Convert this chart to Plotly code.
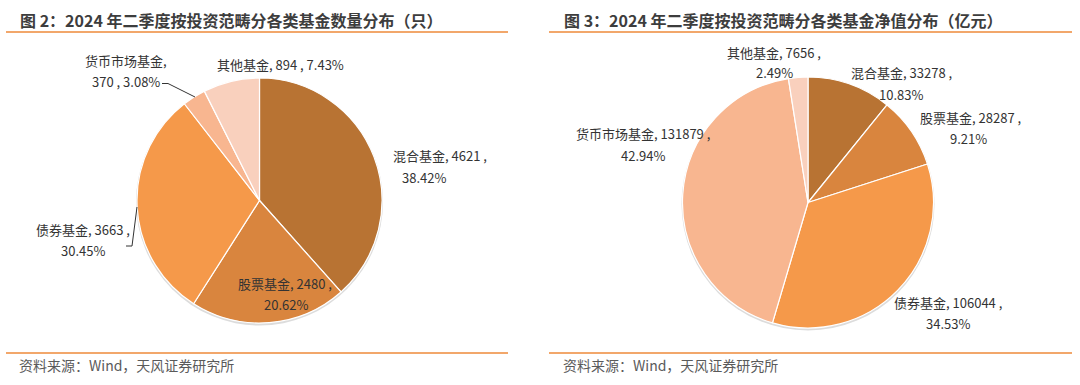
import plotly.graph_objects as go

W, H = 1080, 385

categories_left = ["混合基金", "股票基金", "债券基金", "货币市场基金", "其他基金"]
counts_left = [4621, 2480, 3663, 370, 894]

categories_right = ["混合基金", "股票基金", "债券基金", "货币市场基金", "其他基金"]
nav_right = [33278, 28287, 106044, 131879, 7656]

colors = ["#B87333", "#D9853E", "#F5994A", "#F8B690", "#F9D0BD"]

title_left = "图 2：2024 年二季度按投资范畴分各类基金数量分布（只）"
title_right = "图 3：2024 年二季度按投资范畴分各类基金净值分布（亿元）"
source_text = "资料来源：Wind，天风证券研究所"

FONT = "Noto Sans CJK SC"


def px(x):
    return x / W


def py(y):
    return 1 - y / H


def pct_list(vals):
    t = sum(vals)
    return [f"{v / t * 100:.2f}%" for v in vals]


fig = go.Figure()


def add_pie(cx, cy, r, labels, values):
    # soft shadow
    fig.add_trace(go.Pie(
        labels=["s"], values=[1], sort=False, textinfo="none", hoverinfo="skip",
        marker=dict(colors=["#dcdcdc"], line=dict(width=0)),
        domain=dict(x=[px(cx - r - 1.5), px(cx + r + 1.5)],
                    y=[py(cy + r + 2.5), py(cy - r + 0.5)]),
        showlegend=False,
    ))
    fig.add_trace(go.Pie(
        labels=labels, values=values, sort=False, direction="clockwise",
        rotation=0, textinfo="none",
        marker=dict(colors=colors, line=dict(color="white", width=1.2)),
        domain=dict(x=[px(cx - r), px(cx + r)], y=[py(cy + r), py(cy - r)]),
        showlegend=False,
    ))


add_pie(259.5, 200.5, 122.5, categories_left, counts_left)
add_pie(808, 202.5, 125.5, categories_right, nav_right)

ann = []


def txt(x, y, s, size=13, color="#333333", xanchor="center"):
    ann.append(dict(x=px(x), y=py(y), xref="paper", yref="paper", text=s,
                    showarrow=False, xanchor=xanchor, yanchor="middle",
                    font=dict(family=FONT, size=size, color=color)))


pl = pct_list(counts_left)
pr = pct_list(nav_right)

# left labels (混合, 股票, 债券, 货币, 其他)
txt(440, 155, f"{categories_left[0]}, {counts_left[0]} ,")
txt(424, 177, pl[0])
txt(285, 283, f"{categories_left[1]}, {counts_left[1]} ,")
txt(286, 304, pl[1])
txt(83, 229, f"{categories_left[2]}, {counts_left[2]} ,")
txt(83, 250, pl[2])
txt(126, 61, f"{categories_left[3]},")
txt(126, 82, f"{counts_left[3]} , {pl[3]}")
txt(280, 65, f"{categories_left[4]}, {counts_left[4]} , {pl[4]}")

# right labels
txt(901, 73, f"{categories_right[0]}, {nav_right[0]} ,")
txt(901, 95, pr[0])
txt(970, 117, f"{categories_right[1]}, {nav_right[1]} ,")
txt(968, 138, pr[1])
txt(948, 302, f"{categories_right[2]}, {nav_right[2]} ,")
txt(948, 323, pr[2])
txt(643, 133, f"{categories_right[3]}, {nav_right[3]} ,")
txt(643, 155, pr[3])
txt(774, 53, f"{categories_right[4]}, {nav_right[4]} ,")
txt(774, 73, pr[4])

# titles and sources
for x0, t in [(18, title_left), (562, title_right)]:
    ann.append(dict(x=px(x0), y=py(20), xref="paper", yref="paper", text=f"<b>{t}</b>",
                    showarrow=False, xanchor="left", yanchor="middle",
                    font=dict(family=FONT, size=16, color="#3d3d3d")))
for x0 in [17, 561]:
    txt(x0, 365, source_text, size=14, color="#5a5a5a", xanchor="left")

shapes = []
for x0, x1 in [(6, 508), (549, 1072)]:
    for yy in [32, 353]:
        shapes.append(dict(type="line", xref="paper", yref="paper",
                           x0=px(x0), x1=px(x1), y0=py(yy), y1=py(yy),
                           line=dict(color="#EE8A3A", width=1.5)))


# leader lines
def path(points):
    d = "M " + " L ".join(f"{px(a)},{py(b)}" for a, b in points)
    shapes.append(dict(type="path", xref="paper", yref="paper", path=d,
                       line=dict(color="#333333", width=1)))


path([(162, 83.5), (168, 83.5), (195, 97)])
path([(126, 246), (132, 246), (137, 207)])

fig.update_layout(
    width=W, height=H, margin=dict(l=0, r=0, t=0, b=0),
    paper_bgcolor="white", plot_bgcolor="white",
    annotations=ann, shapes=shapes,
    font=dict(family=FONT),
)

fig.write_html("out.html",
               config={"displayModeBar": False},
               post_script="document.body.style.margin='0px';document.body.style.overflow='hidden';")
